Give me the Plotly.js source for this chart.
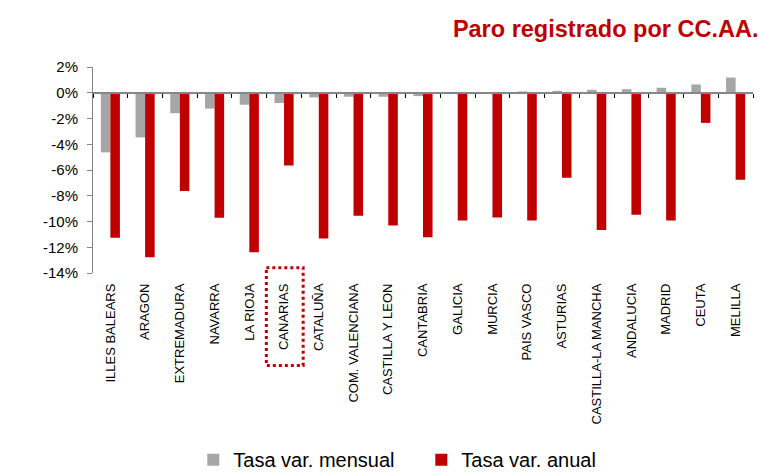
<!DOCTYPE html>
<html>
<head>
<meta charset="utf-8">
<script src="https://cdn.plot.ly/plotly-3.0.1.min.js"></script>
<style>html,body{margin:0;padding:0;background:#fff;}#chart{width:763px;height:472px;}</style>
</head>
<body>
<div id="chart"></div>
<script>
const categories = ["ILLES BALEARS","ARAGON","EXTREMADURA","NAVARRA","LA RIOJA","CANARIAS","CATALUÑA","COM. VALENCIANA","CASTILLA Y LEON","CANTABRIA","GALICIA","MURCIA","PAIS VASCO","ASTURIAS","CASTILLA-LA MANCHA","ANDALUCIA","MADRID","CEUTA","MELILLA"];
const tasaMensual = [-4.63,-3.47,-1.59,-1.23,-0.93,-0.80,-0.36,-0.31,-0.31,-0.26,-0.05,-0.03,0.10,0.15,0.23,0.28,0.39,0.64,1.18];
const tasaAnual = [-11.26,-12.77,-7.63,-9.71,-12.39,-5.65,-11.33,-9.56,-10.31,-11.23,-9.92,-9.69,-9.92,-6.60,-10.66,-9.48,-9.92,-2.34,-6.76];
const yTicks = [2,0,-2,-4,-6,-8,-10,-12,-14];
const seriesNames = ["Tasa var. mensual","Tasa var. anual"];
const titleText = "Paro registrado por CC.AA.";
const highlighted = "CANARIAS";

const FONT = "Liberation Sans, Arial, sans-serif";
const RED = "#c00000", GREY = "#a6a6a6", AXIS = "#868686";
const yMin = -14, yMax = 2;

const traces = [
  {type:"bar", name:seriesNames[0], x:categories, y:tasaMensual, marker:{color:GREY}, hoverinfo:"skip"},
  {type:"bar", name:seriesNames[1], x:categories, y:tasaAnual, marker:{color:RED}, hoverinfo:"skip"},
  {type:"scatter", mode:"markers", x:categories, y:categories.map(()=>null), xaxis:"x2", showlegend:false, hoverinfo:"skip"}
];

const hi = categories.indexOf(highlighted);
const layout = {
  width:763, height:472,
  margin:{l:93, r:10, t:67, b:199, autoexpand:false},
  paper_bgcolor:"#fff", plot_bgcolor:"#fff",
  font:{family:FONT, color:"#000"},
  barmode:"group", bargap:0.45, bargroupgap:0,
  title:{text:titleText, font:{family:FONT, size:23.5, color:RED, weight:"bold"},
         xref:"container", x:0.994, xanchor:"right", yref:"container", y:0.94, yanchor:"middle"},
  xaxis:{type:"category", categoryarray:categories, range:[-0.5, categories.length-0.5],
         showline:false, showgrid:false, zeroline:false, ticks:"",
         tickangle:-90, tickfont:{size:13, family:FONT, color:"#000"}, ticklabelstandoff:7},
  xaxis2:{type:"category", categoryarray:categories, range:[-0.5, categories.length-0.5],
          overlaying:"x", anchor:"free", position:(0 - yMin)/(yMax - yMin), side:"bottom",
          showline:true, linecolor:AXIS, linewidth:2, ticks:"outside", tickson:"boundaries",
          ticklen:4, tickcolor:"#000", tickwidth:1, showticklabels:false, showgrid:false, zeroline:false},
  yaxis:{range:[yMin, yMax], tickmode:"array", tickvals:yTicks, ticktext:yTicks.map(v=>v+"%"),
         showline:true, linecolor:AXIS, linewidth:1, ticks:"outside", ticklen:5, tickcolor:AXIS,
         showgrid:false, zeroline:false, tickfont:{size:15, family:FONT, color:"#000"}, ticklabelstandoff:6},
  legend:{orientation:"h", xref:"paper", x:0.152, xanchor:"left", yref:"paper", y:-0.906, yanchor:"middle",
          font:{size:20, family:FONT, color:"#000"}, entrywidth:183, entrywidthmode:"pixels",
          itemwidth:30, bgcolor:"rgba(0,0,0,0)", traceorder:"normal"},
  shapes:[{type:"rect", xref:"x", yref:"paper", x0:hi-0.51, x1:hi+0.55, y0:0.026, y1:-0.449,
           line:{color:RED, width:3, dash:"3px,3px"}, fillcolor:"rgba(0,0,0,0)"}],
  showlegend:true
};

Plotly.newPlot("chart", traces, layout, {staticPlot:true, displayModeBar:false});
</script>
</body>
</html>
